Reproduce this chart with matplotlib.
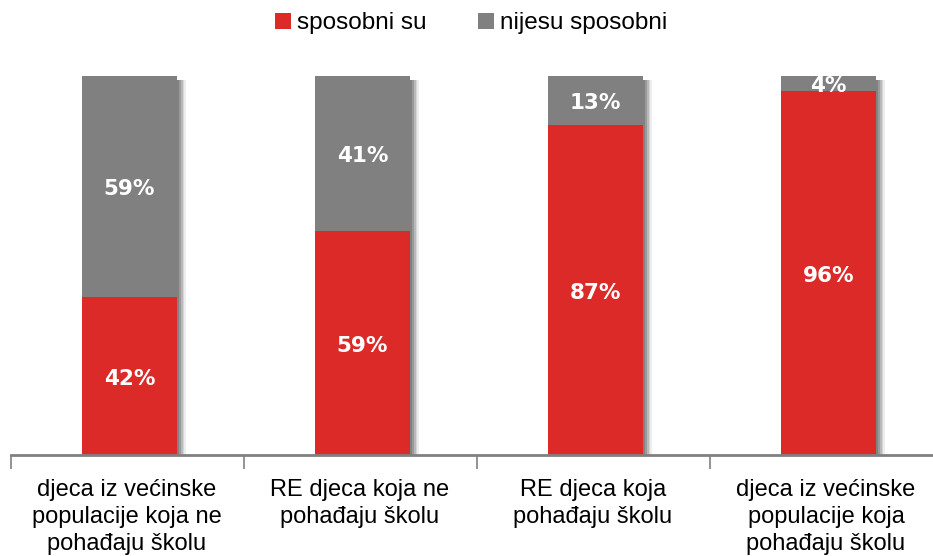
import matplotlib
matplotlib.use("Agg")
import matplotlib.pyplot as plt
from matplotlib.patches import Rectangle

categories = ["djeca iz većinske\npopulacije koja ne\npohađaju školu",
              "RE djeca koja ne\npohađaju školu",
              "RE djeca koja\npohađaju školu",
              "djeca iz većinske\npopulacije koja\npohađaju školu"]
sposobni = [42, 59, 87, 96]
nijesu = [59, 41, 13, 4]
series_names = ["sposobni su", "nijesu sposobni"]
RED = "#DC2A28"
GRAY = "#808080"

fig = plt.figure(figsize=(9.33, 5.56), dpi=100)
ax = fig.add_axes([10.5/933, (556-455)/556, 932/933, (455-76)/556])

x = list(range(len(categories)))
tot = [a + b for a, b in zip(sposobni, nijesu)]
red_n = [a / t for a, t in zip(sposobni, tot)]
gray_n = [b / t for b, t in zip(nijesu, tot)]
w = 0.405
off = 0.01

# drop shadows
for i in x:
    for dx, al in [(0.042, 0.10), (0.034, 0.15), (0.026, 0.22), (0.018, 0.3), (0.010, 0.35)]:
        ax.add_patch(Rectangle((i + off - w/2 + dx, -0.01), w, 1.0, facecolor="#555555",
                               alpha=al, edgecolor="none", zorder=1))

xb = [i + off for i in x]
b1 = ax.bar(xb, red_n, width=w, color=RED, label=series_names[0], zorder=3)
b2 = ax.bar(xb, gray_n, width=w, bottom=red_n, color=GRAY, label=series_names[1], zorder=3)

lab = dict(ha="center", va="center", color="white", fontsize=15.5, fontweight="bold",
           family="DejaVu Sans", zorder=5)
for i in x:
    ax.text(xb[i], red_n[i] / 2 - 0.008, f"{sposobni[i]}%", **lab)
    ax.text(xb[i], red_n[i] + gray_n[i] / 2 - 0.006, f"{nijesu[i]}%", **lab)

ax.set_xlim(-0.5, 3.5)
ax.set_ylim(0, 1)
for s in ["top", "right", "left"]:
    ax.spines[s].set_visible(False)
ax.spines["bottom"].set_color(GRAY)
ax.spines["bottom"].set_linewidth(2)
ax.spines["bottom"].set_zorder(6)
ax.set_yticks([])
ax.set_xticks(x)
ax.set_xticklabels(categories, fontsize=17, family="Liberation Sans", linespacing=1.3)
ax.tick_params(axis="x", which="major", length=0, pad=17)
ax.set_xticks([-0.5, 0.5, 1.5, 2.5, 3.5], minor=True)
ax.tick_params(axis="x", which="minor", length=10, width=1.2, color=GRAY, direction="out")

fig.legend(handles=[b1, b2], labels=series_names, loc="center", bbox_to_anchor=(0.505, 0.958),
           ncol=2, frameon=False, handlelength=0.65, handleheight=0.65,
           handletextpad=0.25, columnspacing=2.1, prop={"family": "Liberation Sans", "size": 17.5})

fig.savefig("out.png", dpi=100)
